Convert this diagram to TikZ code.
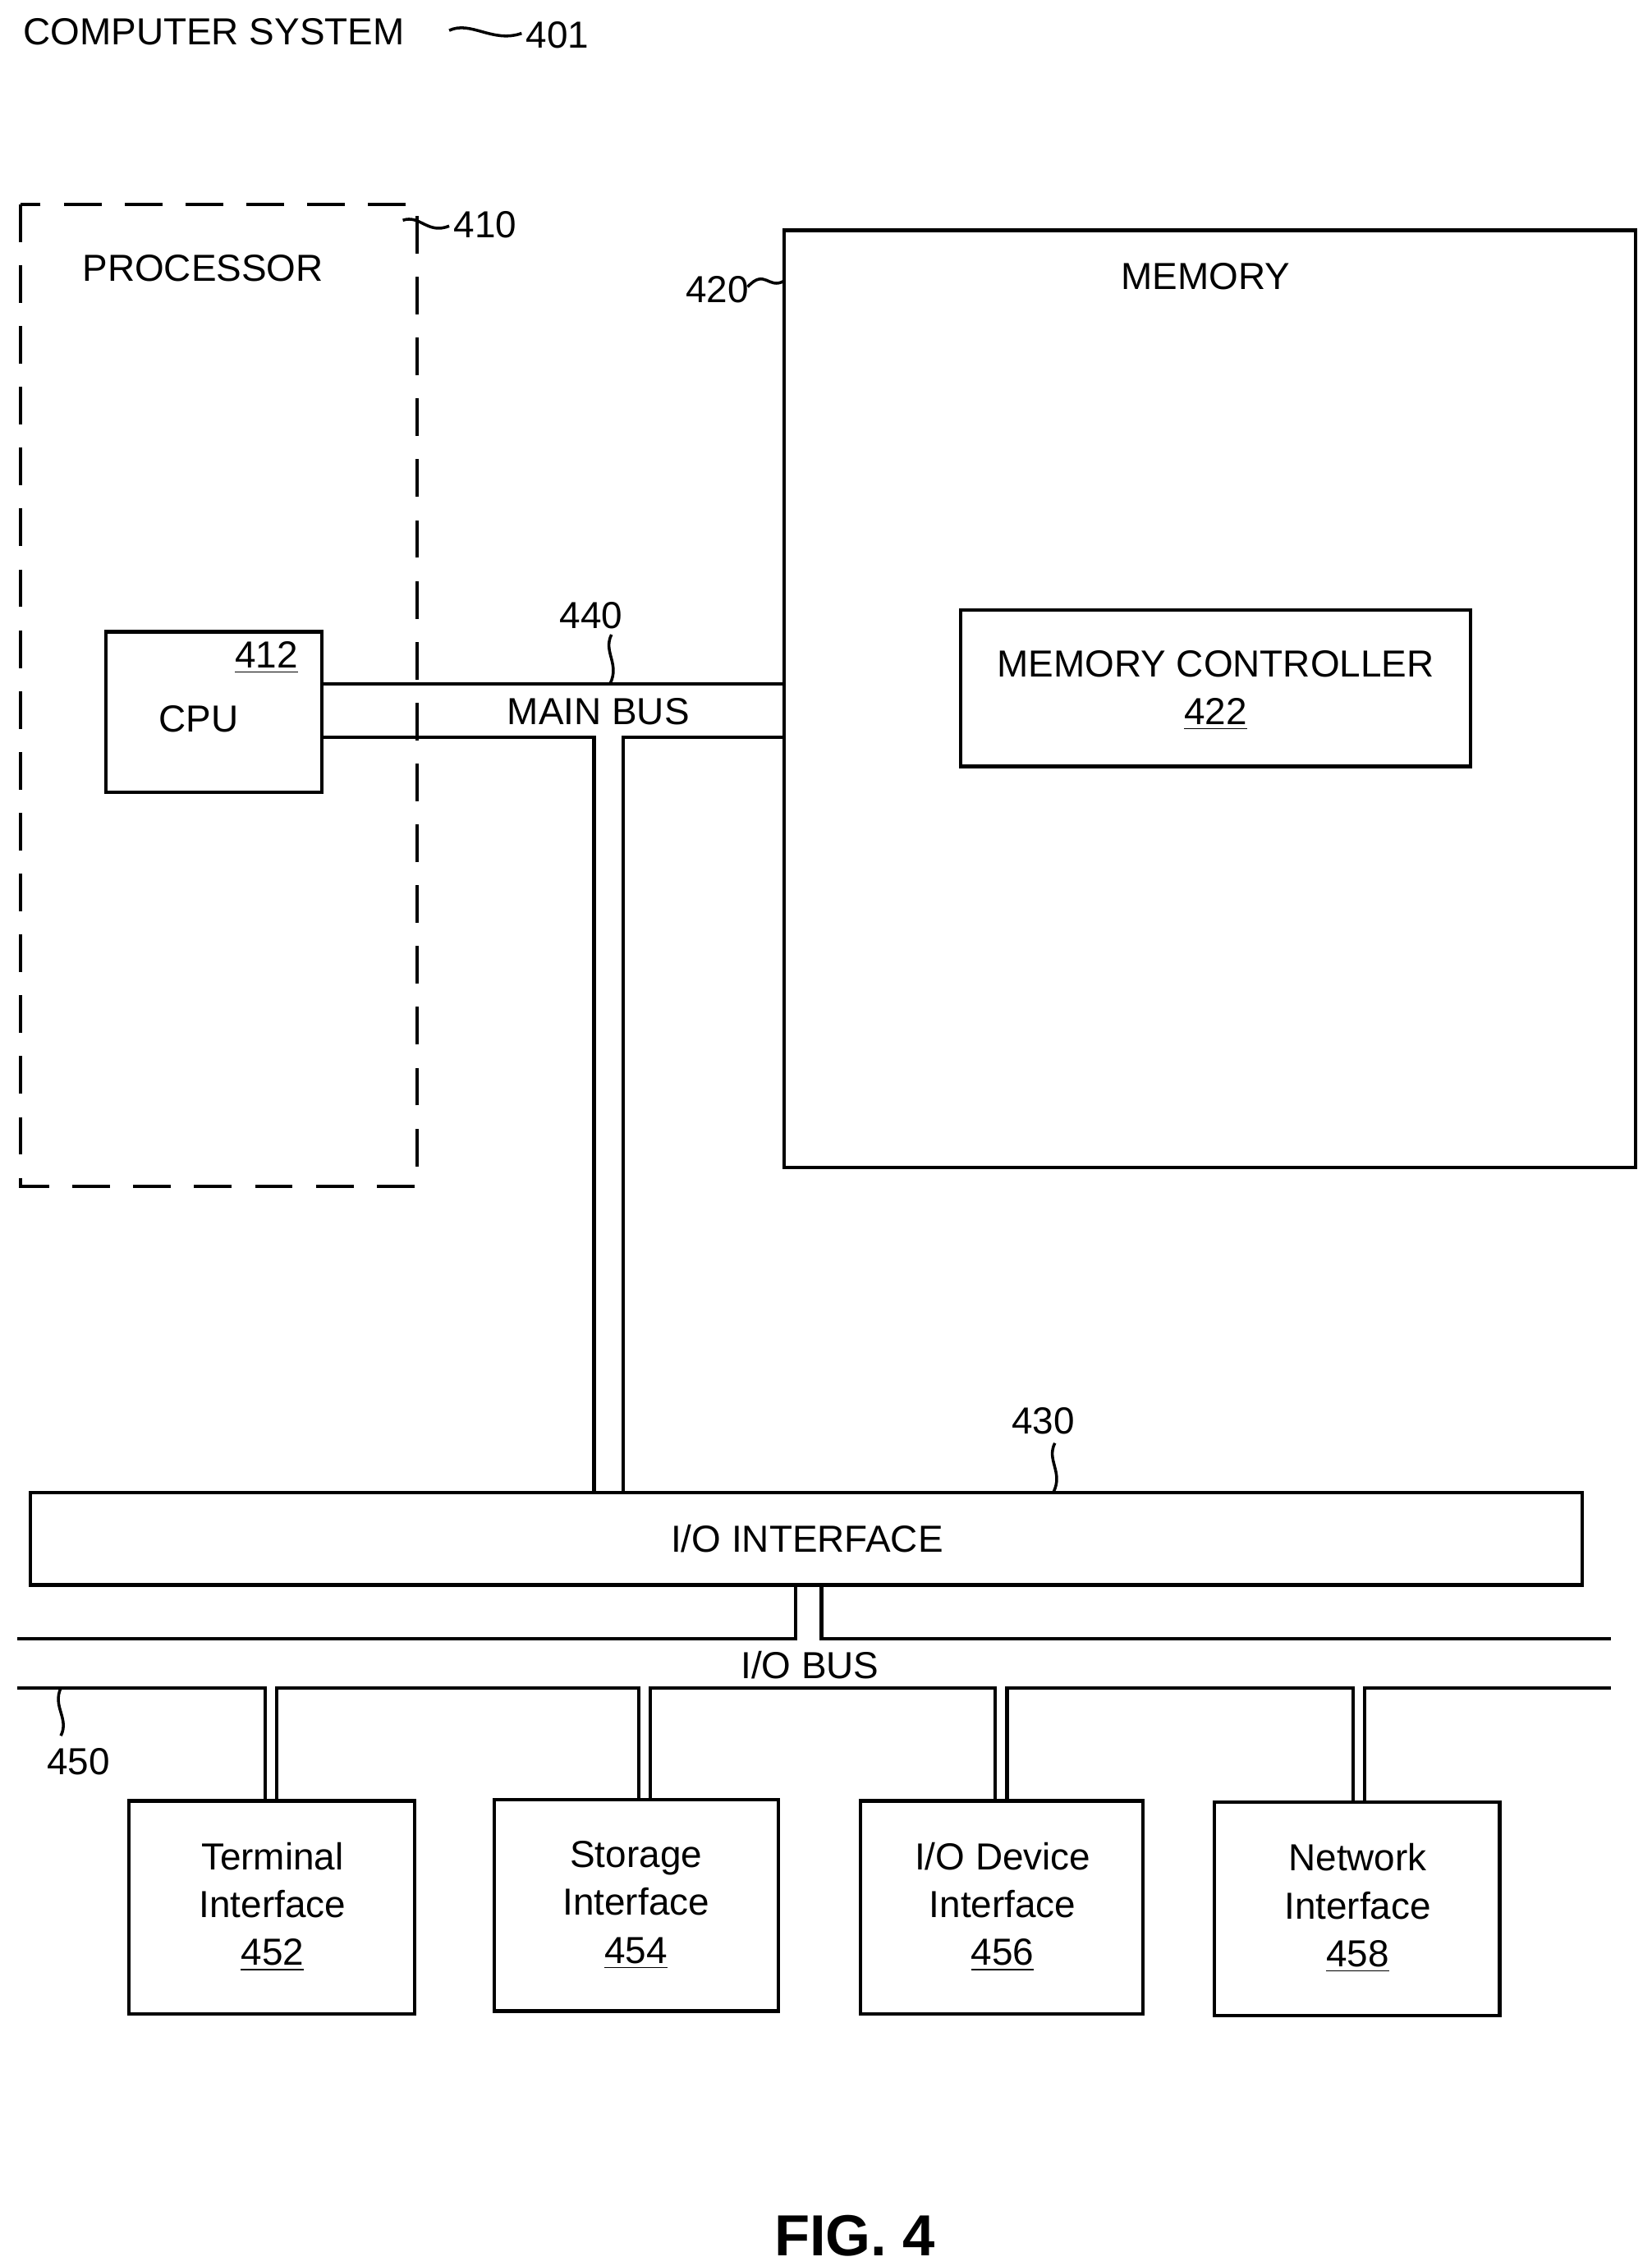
\documentclass[tikz,border=0pt]{standalone}
\usepackage{fontspec}
\setmainfont{Liberation Sans}
\begin{document}
\begin{tikzpicture}[x=0.5pt,y=-0.5pt,line width=1.2pt,
  box/.style={draw,line width=1.2pt},
  txt/.style={font=\fontsize{13}{15.5}\selectfont,inner sep=0pt,align=center},
  sq/.style={line width=1pt}]
\useasboundingbox (0,0) rectangle (1140,1564);
% title
\node[txt,anchor=west] (title) at (15,22) {COMPUTER SYSTEM};
\node[txt,anchor=west] (n401) at (362,24) {401};
\draw[sq] (310,21) .. controls (325,14) and (340,30) .. (360,23);
% processor
\draw[dash pattern=on 13pt off 8pt] (14,141) rectangle (288,819);
\node[txt] (proc) at (140,185) {PROCESSOR};
\node[txt,anchor=west] (n410) at (312,155) {410};
\draw[sq] (278,152) .. controls (290,148) and (295,162) .. (310,156);
% memory
\draw[box] (541,159) rectangle (1129,806);
\node[txt] (mem) at (832,191) {MEMORY};
\node[txt,anchor=east] (n420) at (518,200) {420};
\draw[sq] (516,198) .. controls (528,185) and (530,200) .. (541,194);
\draw[box] (663,421) rectangle (1015,529);
\node[txt] (mc) at (839,458) {MEMORY CONTROLLER};
\node[txt] (n422) at (839,493) {\underline{422}};
% cpu
\draw[box] (73,436) rectangle (222,547);
\node[txt] (cpu) at (137,496) {CPU};
\node[txt] (n412) at (184,454) {\underline{412}};
% main bus
\draw (222,472) -- (541,472);
\draw (222,509) -- (410,509) -- (410,1030);
\draw (541,509) -- (430,509) -- (430,1030);
\node[txt] (mb) at (413,491) {MAIN BUS};
\node[txt] (n440) at (408,425) {440};
\draw[sq] (422,438) .. controls (416,450) and (428,458) .. (421,472);
% io interface
\draw[box] (21,1030) rectangle (1092,1094);
\node[txt] (ioi) at (557,1062) {I/O INTERFACE};
\node[txt] (n430) at (720,981) {430};
\draw[sq] (728,996) .. controls (722,1008) and (734,1016) .. (727,1030);
% io bus
\draw (549,1094) -- (549,1131) -- (12,1131);
\draw (567,1094) -- (567,1131) -- (1112,1131);
\node[txt] (iob) at (559,1149) {I/O BUS};
\draw (12,1165) -- (183,1165) -- (183,1243);
\draw (191,1243) -- (191,1165) -- (441,1165) -- (441,1242);
\draw (449,1242) -- (449,1165) -- (687,1165) -- (687,1243);
\draw (695,1243) -- (695,1165) -- (934,1165) -- (934,1244);
\draw (942,1244) -- (942,1165) -- (1112,1165);
\node[txt] (n450) at (54,1216) {450};
\draw[sq] (42,1165) .. controls (36,1178) and (48,1186) .. (42,1198);
% boxes
\draw[box] (89,1243) rectangle (286,1390);
\node[txt] (t) at (188,1316) {Terminal\\[1pt]Interface\\[1pt]\underline{452}};
\draw[box] (341,1242) rectangle (537,1388);
\node[txt] (s) at (439,1315) {Storage\\[1pt]Interface\\[1pt]\underline{454}};
\draw[box] (594,1243) rectangle (789,1390);
\node[txt] (d) at (692,1316) {I/O Device\\[1pt]Interface\\[1pt]\underline{456}};
\draw[box] (838,1244) rectangle (1035,1391);
\node[txt] (n) at (937,1317) {Network\\[1pt]Interface\\[1pt]\underline{458}};
\node[font=\fontsize{20}{24}\selectfont\bfseries,inner sep=0pt] (fig) at (590,1543) {FIG. 4};
\end{tikzpicture}
\end{document}
